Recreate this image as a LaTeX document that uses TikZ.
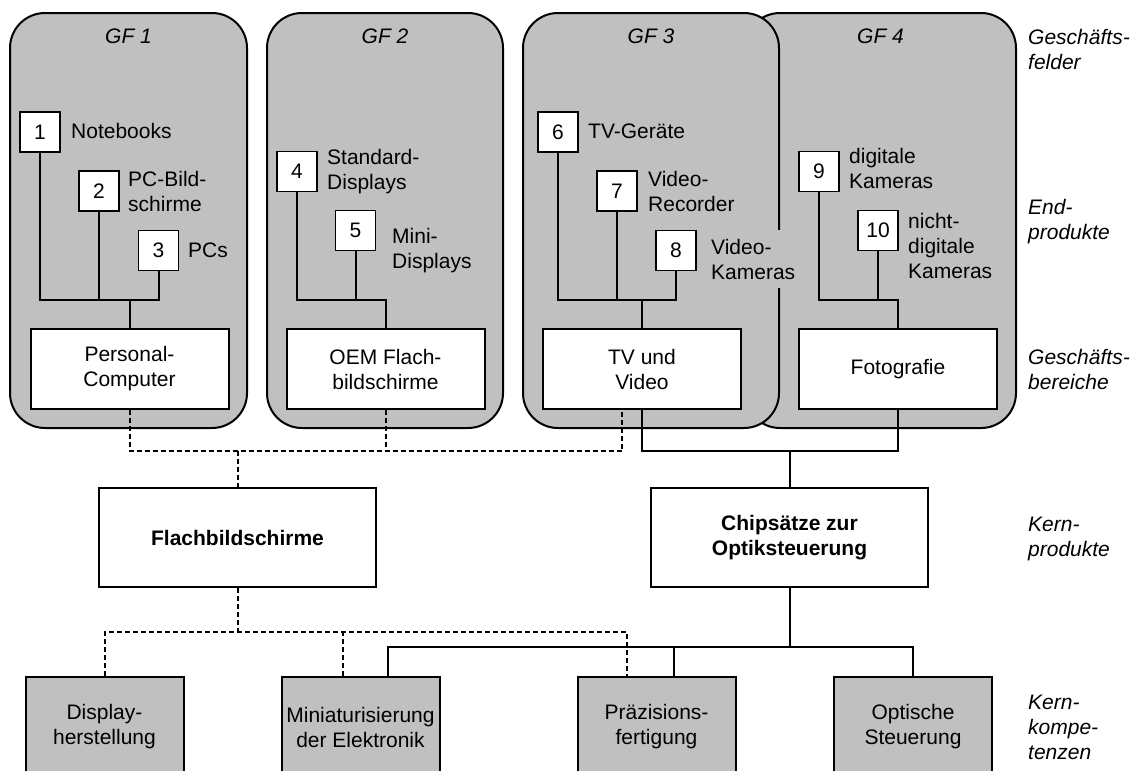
\documentclass[tikz,border=0pt]{standalone}
\usepackage{fontspec}
\setmainfont{Liberation Sans}
\usepackage{tikz}
\usetikzlibrary{positioning}
\definecolor{panel}{RGB}{192,192,192}

\begin{document}
\begin{tikzpicture}[x=1pt,y=-1pt,
  font=\fontsize{21}{25}\selectfont,
  gf/.style={draw=black,fill=panel,line width=2pt,rounded corners=35pt,inner sep=0pt,minimum height=415pt},
  tt/.style={font=\fontsize{21}{25}\selectfont\itshape},
  nr/.style={draw=black,fill=white,line width=1.8pt,minimum size=40pt,inner sep=0pt},
  lb/.style={anchor=west,align=left,inner sep=1pt},
  gb/.style={draw=black,fill=white,line width=2pt,minimum width=198pt,minimum height=80pt,align=center,inner sep=0pt},
  kp/.style={gb,minimum width=277pt,minimum height=99pt,font=\fontsize{21}{25}\selectfont\bfseries},
  kk/.style={gb,fill=panel,minimum width=158pt,minimum height=100pt},
  side/.style={anchor=west,align=left,inner sep=1pt,font=\fontsize{21}{25}\selectfont\itshape},
  ln/.style={line width=2pt},
  d/.style={line width=2pt,dash pattern=on 5pt off 3pt}]
\useasboundingbox (0,0) rectangle (1136,771);
% Geschaeftsfelder
\node[gf,minimum width=237pt] (gf1) at (128.5,220.5) {};
\node[gf,minimum width=236pt] (gf2) at (385,220.5) {};
\node[gf,minimum width=271pt] (gf4) at (880.5,220.5) {};
\node[gf,minimum width=256pt] (gf3) at (651,220.5) {};
\node[tt] (t1) at (128.5,36) {GF 1};
\node[tt] (t2) at (385,36) {GF 2};
\node[tt] (t3) at (651,36) {GF 3};
\node[tt] (t4) at (880.5,36) {GF 4};
% Endprodukte
\node[nr] (b1) at (40,132) {1};
\node[nr] (b2) at (99,191) {2};
\node[nr] (b3) at (158.5,250.5) {3};
\node[nr] (b4) at (297,171.5) {4};
\node[nr] (b5) at (355.5,230.5) {5};
\node[nr] (b6) at (558,132) {6};
\node[nr] (b7) at (617,191) {7};
\node[nr] (b8) at (676,250.5) {8};
\node[nr] (b9) at (819,171.5) {9};
\node[nr] (b10) at (878,230.5) {10};
\node[lb] (l1) at (70,131) {Notebooks};
\node[lb] (l2) at (127,191) {PC-Bild-\\schirme};
\node[lb] (l3) at (187,250) {PCs};
\node[lb] (l4) at (326,172) {Standard-\\Displays};
\node[lb] (l5) at (391,251) {Mini-\\Displays};
\node[lb] (l6) at (587,131) {TV-Geräte};
\node[lb] (l7) at (647,191) {Video-\\Recorder};
\node[lb,fill=panel,inner ysep=9pt] (l8) at (710,259) {Video-\\Kameras};
\node[lb] (l9) at (848,168) {digitale\\Kameras};
\node[lb] (l10) at (907,246) {nicht-\\digitale\\Kameras};
% Geschaeftsbereiche
\node[gb] (pc) at (129.5,369) {Personal-\\Computer};
\node[gb] (oem) at (385.5,369) {OEM Flach-\\bildschirme};
\node[gb] (tv) at (642,369) {TV und\\Video};
\node[gb] (foto) at (898,369) {Fotografie};
% Kernprodukte
\node[kp] (flach) at (237.5,537.5) {Flachbildschirme};
\node[kp] (chip) at (789.5,537.5) {Chipsätze zur\\Optiksteuerung};
% Kernkompetenzen
\node[kk] (disp) at (104.5,727) {Display-\\herstellung};
\node[kk] (mini) at (360.5,727) {Miniaturisierung\\der Elektronik};
\node[kk] (praez) at (656.5,727) {Präzisions-\\fertigung};
\node[kk] (opt) at (913,727) {Optische\\Steuerung};
% Ebenen
\node[side] (e1) at (1027,49) {Geschäfts-\\felder};
\node[side] (e2) at (1027,222) {End-\\produkte};
\node[side] (e3) at (1027,369) {Geschäfts-\\bereiche};
\node[side] (e4) at (1027,539) {Kern-\\produkte};
\node[side] (e5) at (1027,727) {Kern-\\kompe-\\tenzen};
% Verbindungen in den Feldern
\coordinate (bus1) at (129.5,300);
\coordinate (bus2) at (385.5,300);
\coordinate (bus3) at (642,300);
\coordinate (bus4) at (898,300);
\draw[ln] (b1) |- (bus1) -| (b3);
\draw[ln] (b2) -- (b2 |- bus1);
\draw[ln] (bus1) -- (pc);
\draw[ln] (b4) |- (bus2) -- (oem);
\draw[ln] (b5) -- (b5 |- bus2);
\draw[ln] (b6) |- (bus3) -| (b8);
\draw[ln] (b7) -- (b7 |- bus3);
\draw[ln] (bus3) -- (tv);
\draw[ln] (b9) |- (bus4) -- (foto);
\draw[ln] (b10) -- (b10 |- bus4);
% Bereiche -> Kernprodukte
\coordinate (dj) at (237.5,451);
\coordinate (cj) at (789.5,451);
\coordinate (tvd) at ([xshift=-20pt]tv.south);
\draw[d] (pc) |- (tvd |- dj) -- (tvd);
\draw[d] (oem) -- (oem |- dj);
\draw[d] (dj) -- (flach);
\draw[ln] (tv) |- (cj) -| (foto);
\draw[ln] (cj) -- (chip);
% Kernprodukte -> Kompetenzen
\coordinate (fj) at (237.5,632);
\coordinate (kj) at (789.5,647);
\coordinate (mid) at ([xshift=-18pt]mini.north);
\coordinate (prd) at ([xshift=-30pt]praez.north);
\coordinate (mis) at ([xshift=27pt]mini.north);
\coordinate (prs) at ([xshift=17pt]praez.north);
\draw[d] (flach) -- (fj);
\draw[d] (disp) |- (prd |- fj) -- (prd);
\draw[d] (mid) -- (mid |- fj);
\draw[ln] (chip) -- (kj);
\draw[ln] (mis) |- (kj) -| (opt);
\draw[ln] (prs) -- (prs |- kj);
\end{tikzpicture}
\end{document}
